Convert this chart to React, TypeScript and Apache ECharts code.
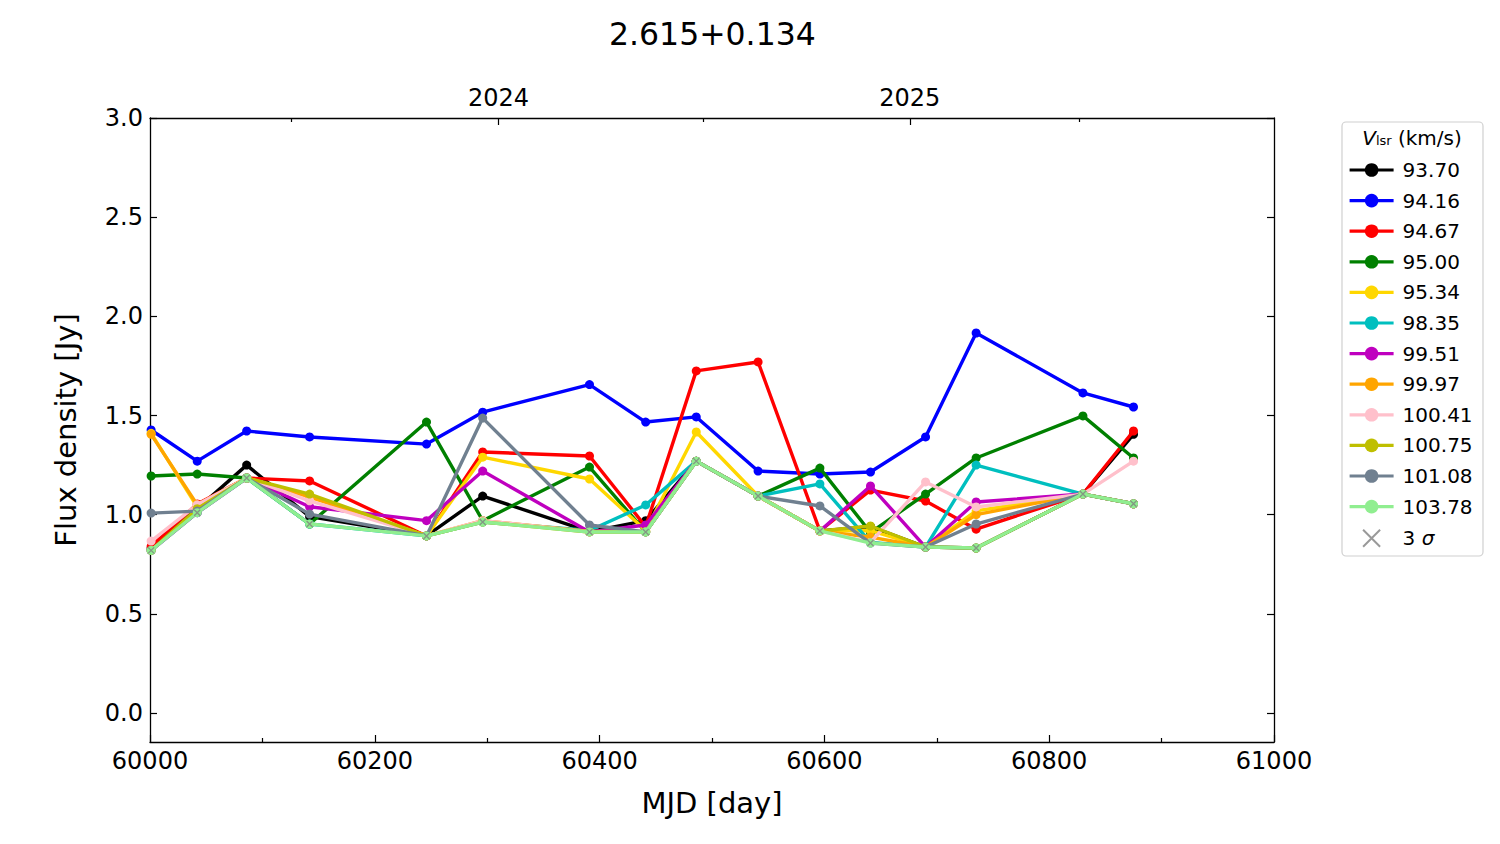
import React, { useEffect, useRef } from 'react';
import * as echarts from 'echarts';

const mjd = [60001, 60042, 60086, 60142, 60246, 60296, 60391, 60441, 60486, 60541, 60596, 60641, 60690, 60735, 60830, 60875];

const vlsrNames = ['93.70', '94.16', '94.67', '95.00', '95.34', '98.35', '99.51', '99.97', '100.41', '100.75', '101.08', '103.78'];
const vlsrColors = ['#000000', '#0000ff', '#ff0000', '#008000', '#ffd700', '#00bfbf', '#bf00bf', '#ffa500', '#ffc0cb', '#bfbf00', '#708090', '#90ee90'];

const v9370 = [0.83, 1.03, 1.25, 0.99, 0.893, 1.094, 0.915, 0.97, 1.27, 1.094, 0.918, 0.94, 0.837, 0.832, 1.104, 1.405];
const v9416 = [1.427, 1.27, 1.422, 1.392, 1.356, 1.517, 1.656, 1.467, 1.493, 1.22, 1.205, 1.215, 1.392, 1.916, 1.614, 1.543];
const v9467 = [0.84, 1.054, 1.185, 1.17, 0.893, 1.316, 1.296, 0.94, 1.725, 1.77, 0.918, 1.124, 1.069, 0.927, 1.104, 1.422];
const v9500 = [1.195, 1.205, 1.185, 0.953, 1.467, 0.97, 1.24, 0.913, 1.27, 1.094, 1.235, 0.91, 1.104, 1.286, 1.498, 1.286];
const v9534 = [1.41, 1.04, 1.185, 1.09, 0.893, 1.29, 1.18, 0.92, 1.417, 1.094, 0.918, 0.92, 0.837, 1.019, 1.104, 1.055];
const v9835 = [0.82, 1.01, 1.185, 0.953, 0.893, 0.963, 0.92, 1.049, 1.27, 1.094, 1.155, 0.86, 0.837, 1.25, 1.104, 1.055];
const v9951 = [0.82, 1.01, 1.185, 1.04, 0.97, 1.22, 0.913, 0.948, 1.27, 1.094, 0.918, 1.145, 0.837, 1.064, 1.104, 1.055];
const v9997 = [1.405, 1.05, 1.185, 1.09, 0.893, 0.97, 0.915, 0.915, 1.27, 1.094, 0.918, 0.887, 0.837, 1.0, 1.104, 1.055];
const v10041 = [0.867, 1.05, 1.185, 1.07, 0.893, 0.97, 0.913, 0.913, 1.27, 1.094, 0.918, 0.86, 1.165, 1.039, 1.104, 1.27];
const v10075 = [0.82, 1.03, 1.185, 1.104, 0.893, 0.963, 0.913, 0.913, 1.27, 1.094, 0.918, 0.943, 0.837, 0.832, 1.104, 1.055];
const v10108 = [1.008, 1.018, 1.185, 1.003, 0.893, 1.487, 0.948, 0.913, 1.27, 1.094, 1.044, 0.857, 0.837, 0.953, 1.104, 1.055];
const v10378 = [0.82, 1.01, 1.185, 0.953, 0.893, 0.963, 0.913, 0.913, 1.27, 1.094, 0.918, 0.857, 0.837, 0.832, 1.104, 1.055];
const threeSigma = [0.82, 1.01, 1.185, 0.953, 0.893, 0.963, 0.913, 0.913, 1.27, 1.094, 0.918, 0.857, 0.837, 0.832, 1.104, 1.055];

const seriesValues = [v9370, v9416, v9467, v9500, v9534, v9835, v9951, v9997, v10041, v10075, v10108, v10378];

const yTicks = [0, 0.5, 1, 1.5, 2, 2.5, 3];
const yearTicks = [60310, 60676];
const yearLabels = ['2024', '2025'];
const halfYearTicks = [60126, 60492, 60827];

const FONT = 'DejaVu Sans';
const X_MIN = 60000;
const X_MAX = 61000;
const Y_MIN = -0.146;
const Y_MAX = 3.0;

export default function App() {
  const ref = useRef<HTMLDivElement>(null);
  useEffect(() => {
    document.body.style.margin = '0';
    if (!ref.current) return;
    const chart = echarts.init(ref.current, null, { renderer: 'svg' });
    const axisLine = { show: true, onZero: false, lineStyle: { color: '#000', width: 1.3 } };
    const tickStyle = { color: '#000', width: 1.2 };
    const lineSeries = seriesValues.map((vals, i) => ({
      name: vlsrNames[i],
      type: 'line',
      data: mjd.map((x, j) => [x, vals[j]]),
      symbol: 'circle',
      symbolSize: 9,
      showSymbol: true,
      lineStyle: { width: 3.4, color: vlsrColors[i] },
      itemStyle: { color: vlsrColors[i] },
      z: 2 + i,
    }));
    const sigmaSeries = {
      name: '3 σ',
      type: 'scatter',
      data: mjd.map((x, j) => [x, threeSigma[j]]),
      symbol: 'path://M0,0L10,10M10,0L0,10',
      symbolSize: 6,
      itemStyle: { color: 'none', borderColor: '#808080', borderWidth: 1.3 },
      z: 20,
    };
    chart.setOption({
      animation: false,
      backgroundColor: '#fff',
      textStyle: { fontFamily: FONT },
      title: {
        text: '2.615+0.134',
        left: 604,
        top: 13,
        textStyle: { fontFamily: FONT, fontSize: 31.5, fontWeight: 'normal', color: '#000' },
      },
      grid: { left: 150, top: 118, right: 226, bottom: 102, containLabel: false },
      xAxis: [
        {
          type: 'value', min: X_MIN, max: X_MAX, interval: 200, position: 'bottom',
          axisLine,
          axisTick: { show: true, inside: true, length: 7, lineStyle: tickStyle },
          minorTick: { show: true, splitNumber: 2, length: 4, lineStyle: tickStyle },
          axisLabel: { fontFamily: FONT, fontSize: 24, color: '#000', margin: 7, formatter: (v: number) => String(v) },
          splitLine: { show: false },
          name: 'MJD [day]', nameLocation: 'middle', nameGap: 46,
          nameTextStyle: { fontFamily: FONT, fontSize: 29, color: '#000' },
        },
        {
          type: 'value', min: X_MIN, max: X_MAX, position: 'top',
          axisLine,
          axisTick: { show: true, inside: true, length: 7, lineStyle: tickStyle, customValues: yearTicks },
          axisLabel: {
            fontFamily: FONT, fontSize: 24, color: '#000', margin: 8, customValues: yearTicks,
            formatter: (v: number) => yearLabels[yearTicks.indexOf(v)] ?? '',
          },
          splitLine: { show: false },
        },
        {
          type: 'value', min: X_MIN, max: X_MAX, position: 'top',
          axisLine: { show: false, onZero: false },
          axisTick: { show: true, inside: true, length: 4, lineStyle: tickStyle, customValues: halfYearTicks },
          axisLabel: { show: false },
          splitLine: { show: false },
        },
      ],
      yAxis: [
        {
          type: 'value', min: Y_MIN, max: Y_MAX, position: 'left',
          axisLine,
          axisTick: { show: true, inside: true, length: 7, lineStyle: tickStyle, customValues: yTicks },
          axisLabel: {
            fontFamily: FONT, fontSize: 24, color: '#000', margin: 7, customValues: yTicks,
            formatter: (v: number) => v.toFixed(1),
          },
          splitLine: { show: false },
          name: 'Flux density [Jy]', nameLocation: 'middle', nameGap: 70,
          nameTextStyle: { fontFamily: FONT, fontSize: 29, color: '#000' },
        },
        {
          type: 'value', min: Y_MIN, max: Y_MAX, position: 'right',
          axisLine,
          axisTick: { show: true, inside: true, length: 7, lineStyle: tickStyle, customValues: yTicks },
          axisLabel: { show: false },
          splitLine: { show: false },
        },
      ],
      legend: {
        orient: 'vertical',
        left: 1343,
        top: 155,
        itemWidth: 44,
        itemHeight: 17,
        itemGap: 10.6,
        lineStyle: { width: 3.2 },
        data: [...vlsrNames, '3 σ'],
        textStyle: {
          fontFamily: FONT, fontSize: 20, color: '#000', lineHeight: 20, padding: [0, 0, 0, 4],
          rich: { i: { fontFamily: FONT, fontSize: 20, fontStyle: 'italic', color: '#000' } },
        },
        formatter: (name: string) => (name === '3 σ' ? '3 {i|σ}' : name),
      },
      graphic: [
        {
          type: 'rect', z: -1,
          shape: { x: 1342, y: 122, width: 141, height: 434, r: 4 },
          style: { fill: '#fff', stroke: '#d0d0d0', lineWidth: 1.2 },
        },
        {
          type: 'text', x: 1412, y: 138,
          style: {
            text: '{v|V}{s|lsr}{t| (km/s)}',
            align: 'center', verticalAlign: 'middle',
            rich: {
              v: { fontFamily: FONT, fontSize: 20, fontStyle: 'italic', fill: '#000' },
              s: { fontFamily: FONT, fontSize: 13, fill: '#000', padding: [0, 0, -5, 0] },
              t: { fontFamily: FONT, fontSize: 20, fill: '#000' },
            },
          },
        },
      ],
      series: [...lineSeries, sigmaSeries],
    });
    return () => chart.dispose();
  }, []);
  return <div ref={ref} style={{ width: 1500, height: 844 }} />;
}
